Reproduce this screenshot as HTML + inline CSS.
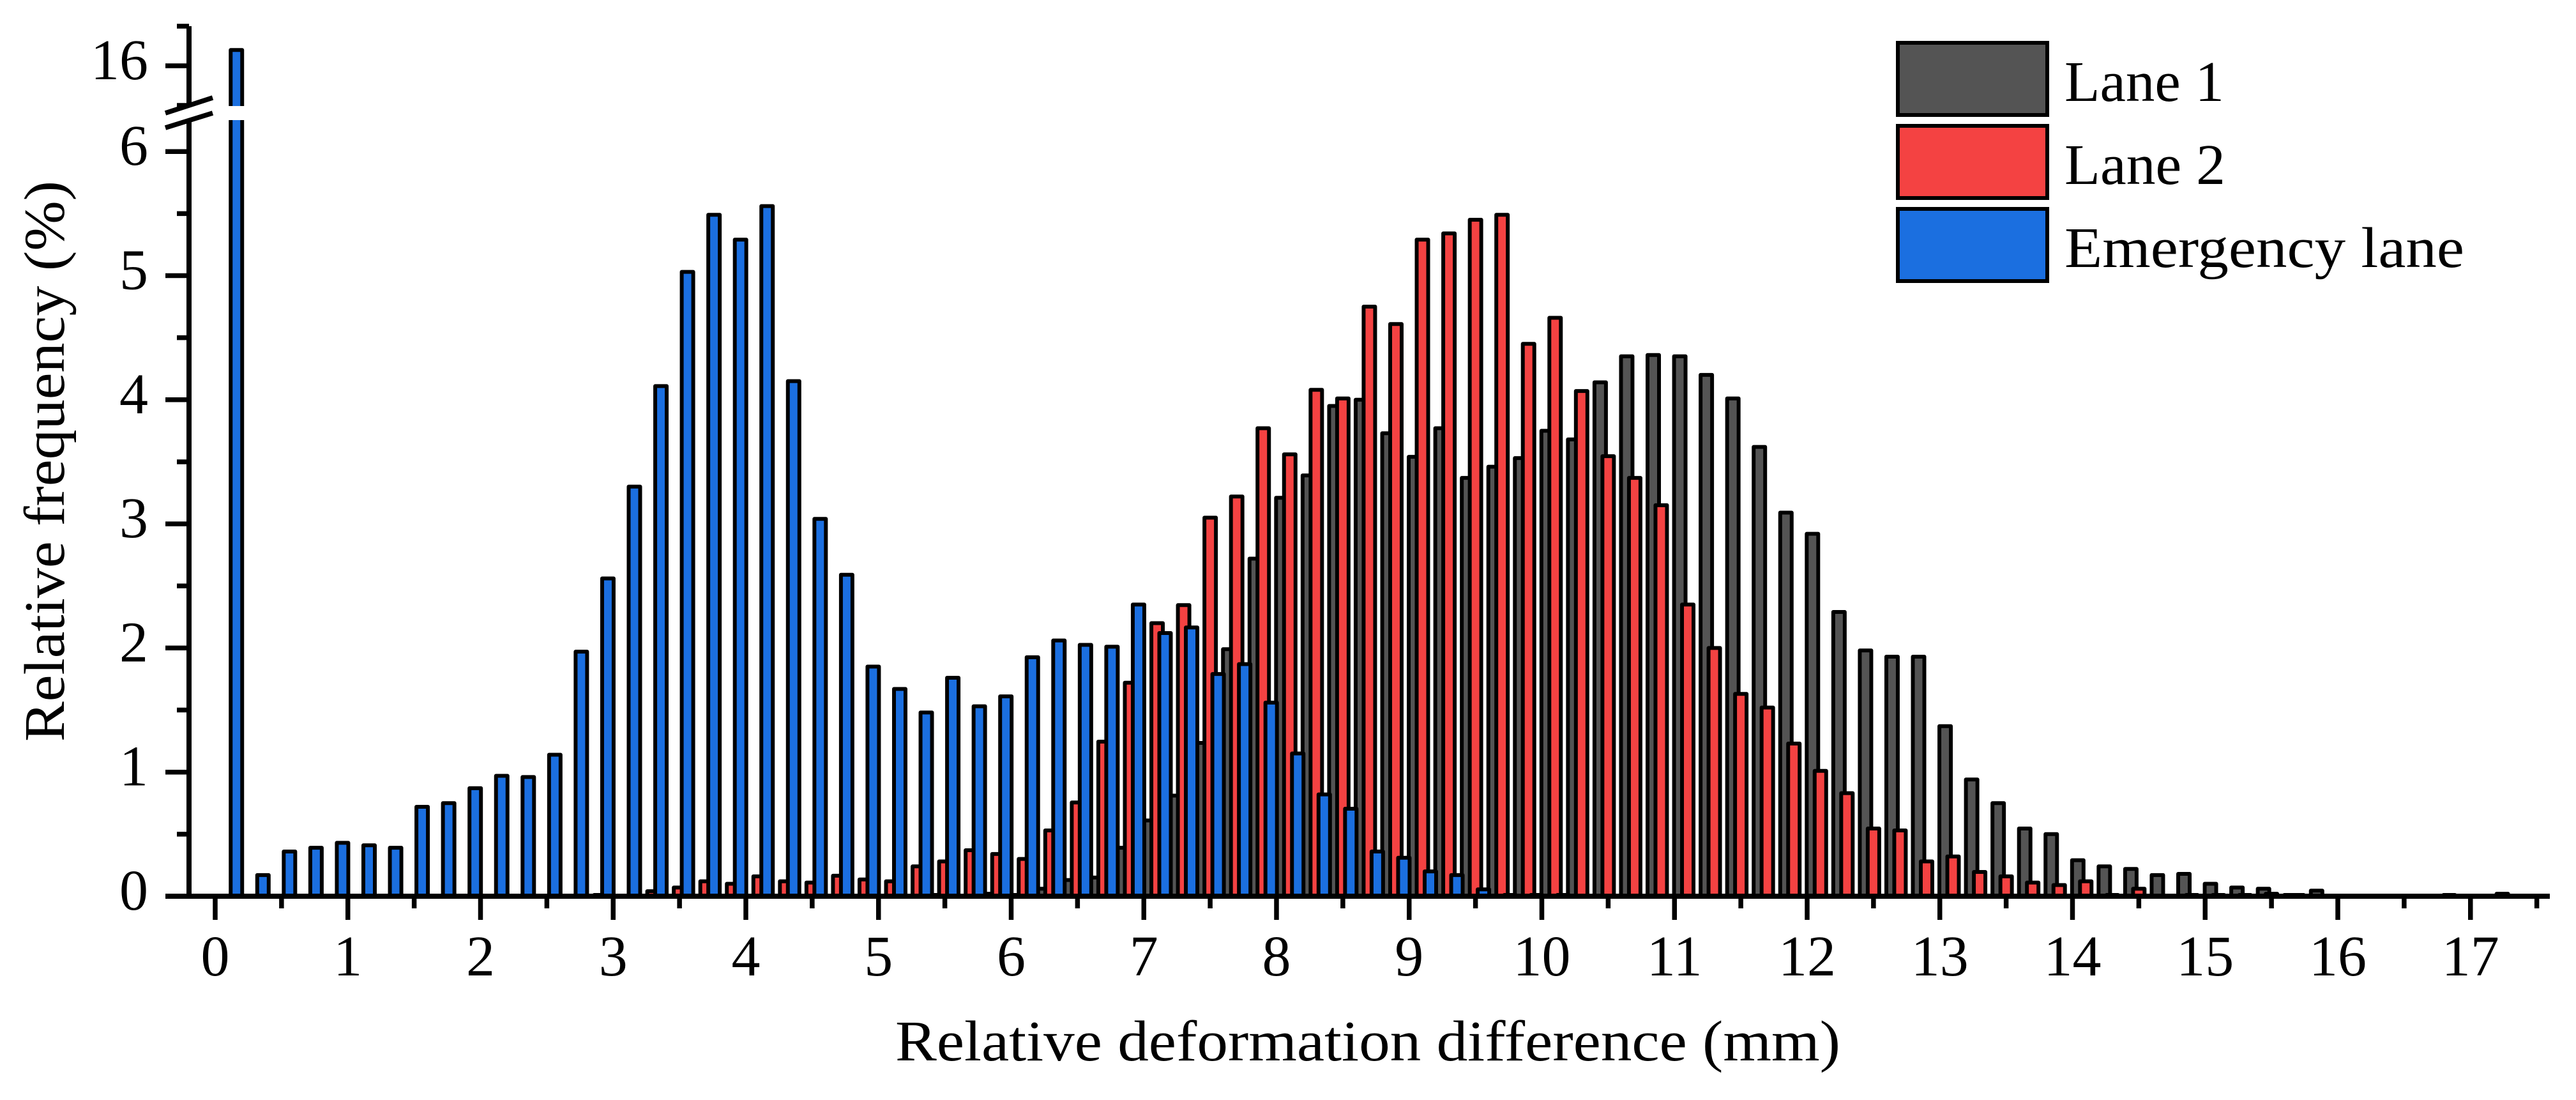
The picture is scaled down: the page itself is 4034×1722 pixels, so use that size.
<!DOCTYPE html>
<html lang="en">
<head>
<meta charset="utf-8">
<title>Relative deformation difference histogram</title>
<style>
html,body{margin:0;padding:0;background:#fff;width:4034px;height:1722px;overflow:hidden}
svg{display:block}
text{font-family:"Liberation Serif",serif;fill:#000}
</style>
</head>
<body>
<svg id="chart" xmlns="http://www.w3.org/2000/svg" width="4034" height="1722" viewBox="0 0 4034 1722">
  <rect x="0" y="0" width="4034" height="1722" fill="#ffffff"/>
  <g id="bars"></g>
  <g id="axes"></g>
  <text x="1402" y="1660" font-size="90" textLength="1480" lengthAdjust="spacingAndGlyphs">Relative deformation difference (mm)</text>
  <text transform="translate(100,1161) rotate(-90)" font-size="90" textLength="878" lengthAdjust="spacingAndGlyphs">Relative frequency (%)</text>
  <g>
    <rect x="2972" y="67" width="234" height="113" fill="#545454" stroke="#000" stroke-width="6"/>
    <text x="3233" y="158" font-size="90" textLength="250" lengthAdjust="spacingAndGlyphs">Lane 1</text>
    <rect x="2972" y="197" width="234" height="113" fill="#F44242" stroke="#000" stroke-width="6"/>
    <text x="3233" y="288" font-size="90" textLength="252" lengthAdjust="spacingAndGlyphs">Lane 2</text>
    <rect x="2972" y="327" width="234" height="113" fill="#1B6FE0" stroke="#000" stroke-width="6"/>
    <text x="3233" y="418" font-size="90" textLength="626" lengthAdjust="spacingAndGlyphs">Emergency lane</text>
  </g>
</svg>
<script>
var binWidth = 0.2;
var xTickLabels = ["0","1","2","3","4","5","6","7","8","9","10","11","12","13","14","15","16","17"];
var yTickLabels = ["0","1","2","3","4","5","6","16"];
var lane1Values = [0,0,0,0,0,0,0,0,0,0,0,0,0,0,0,0,0,0,0,0,0,0,0,0,0,0,0,0.01,0,0.02,0.01,0.05,0.12,0.14,0.38,0.60,0.80,1.225,1.98,2.71,3.2,3.38,3.94,3.99,3.72,3.53,3.76,3.36,3.45,3.52,3.74,3.67,4.13,4.34,4.35,4.34,4.19,4.0,3.61,3.08,2.91,2.28,1.97,1.92,1.92,1.36,0.93,0.74,0.535,0.49,0.28,0.23,0.21,0.16,0.17,0.09,0.06,0.05,0.01,0.035,0,0,0,0,0.01,0,0.02,0];
var lane2Values = [0,0,0,0,0,0,0,0,0,0,0,0,0,0,0.01,0,0.03,0.06,0.11,0.09,0.15,0.11,0.10,0.155,0.125,0.11,0.23,0.27,0.36,0.33,0.29,0.52,0.745,1.235,1.71,2.19,2.335,3.04,3.21,3.76,3.55,4.07,4.0,4.74,4.6,5.28,5.33,5.44,5.48,4.44,4.65,4.06,3.535,3.36,3.14,2.34,1.99,1.62,1.51,1.22,1.0,0.82,0.535,0.52,0.27,0.31,0.185,0.15,0.10,0.08,0.11,0.01,0.05,0,0.01,0.01,0.01,0.02,0.01,0,0,0,0,0,0,0,0,0];
var emergencyValues = [16.2,0.16,0.35,0.38,0.42,0.40,0.38,0.71,0.74,0.86,0.96,0.95,1.13,1.96,2.55,3.29,4.1,5.02,5.48,5.28,5.55,4.14,3.03,2.58,1.84,1.66,1.47,1.75,1.52,1.6,1.915,2.05,2.015,2.0,2.34,2.11,2.155,1.78,1.86,1.55,1.14,0.81,0.695,0.35,0.30,0.19,0.16,0.045,0.01,0.01,0.01,0,0,0,0,0,0,0,0,0,0,0,0,0,0,0,0,0,0,0,0,0,0,0,0,0,0,0,0,0,0,0,0,0,0,0,0,0];

var NS = 'http://www.w3.org/2000/svg';
var Y_BASE = 1403;
var X_ZERO = 337;
var X_UNIT = 207.75;
var LOWER_UNIT = 194.3;
var UPPER_UNIT = 124;
var UPPER_REF_PX = 103;
var UPPER_REF_VAL = 16;
var BREAK_TOP = 166;
var BREAK_BOTTOM = 188;

function xScale(v) { return X_ZERO + X_UNIT * v; }
function yScale(v) {
  if (v > 10) { return UPPER_REF_PX - (v - UPPER_REF_VAL) * UPPER_UNIT; }
  return Y_BASE - v * LOWER_UNIT;
}
function make(tag, attrs, parent) {
  var el = document.createElementNS(NS, tag);
  for (var k in attrs) { el.setAttribute(k, attrs[k]); }
  parent.appendChild(el);
  return el;
}

var barsGroup = document.getElementById('bars');
var axesGroup = document.getElementById('axes');

function drawSeries(values, offset, fill, name) {
  var BAR_W = 18;
  for (var i = 0; i < values.length; i++) {
    var cx = xScale(binWidth * i + binWidth / 2 + offset);
    var top = yScale(values[i]);
    if (values[i] > 0.02 && values[i] < 10) { top -= 2; }
    var bar = make('rect', {
      x: cx - BAR_W / 2, y: top, width: BAR_W, height: Math.max(Y_BASE - top, 0),
      fill: fill, stroke: '#000', 'stroke-width': 6, 'stroke-linejoin': 'round'
    }, barsGroup);
    
    
  }
}
drawSeries(lane1Values, -0.06, '#545454', 'bar-lane-1');
drawSeries(lane2Values, 0, '#F44242', 'bar-lane-2');
drawSeries(emergencyValues, 0.06, '#1B6FE0', 'bar-emergency-lane');

var barGap = make('rect', {
  x: xScale(binWidth / 2 + 0.06) - 14, y: BREAK_TOP, width: 28, height: BREAK_BOTTOM - BREAK_TOP, fill: '#fff'
}, barsGroup);



var yAxisLine = make('line', { x1: 296, y1: 41, x2: 296, y2: Y_BASE, stroke: '#000', 'stroke-width': 8 }, axesGroup);



var xAxisLine = make('line', { x1: 259, y1: Y_BASE, x2: 3993, y2: Y_BASE, stroke: '#000', 'stroke-width': 8 }, axesGroup);



xTickLabels.forEach(function (label) {
  var v = Number(label);
  var px = xScale(v);
  var tick = make('line', { x1: px, y1: Y_BASE, x2: px, y2: 1440, stroke: '#000', 'stroke-width': 7.5 }, axesGroup);
  
  
  var minor = make('line', { x1: xScale(v + 0.5), y1: Y_BASE, x2: xScale(v + 0.5), y2: 1422, stroke: '#000', 'stroke-width': 7.5 }, axesGroup);
  
  
  var text = make('text', { x: px, y: 1527, 'font-size': 90, 'text-anchor': 'middle' }, axesGroup);
  
  
  text.textContent = label;
});

yTickLabels.forEach(function (label) {
  var v = Number(label);
  var py = yScale(v);
  var tick = make('line', { x1: 259, y1: py, x2: 296, y2: py, stroke: '#000', 'stroke-width': 7.5 }, axesGroup);
  
  
  var text = make('text', { x: 232, y: py + 21, 'font-size': 90, 'text-anchor': 'end' }, axesGroup);
  
  
  text.textContent = label;
  var minorValues = v === 16 ? [15.5, 16.5] : (v === 6 ? [5.5] : (v === 0 ? [] : [v - 0.5]));
  minorValues.forEach(function (m) {
    var my = yScale(m);
    var minor = make('line', { x1: 277, y1: my, x2: 296, y2: my, stroke: '#000', 'stroke-width': 7.5 }, axesGroup);
    
    
  });
});

var breakGap = make('polygon', { points: '259,177 333,153 333,178 259,200', fill: '#fff' }, axesGroup);



var breakUpper = make('line', { x1: 259, y1: 177, x2: 333, y2: 153, stroke: '#000', 'stroke-width': 7.5 }, axesGroup);



var breakLower = make('line', { x1: 259, y1: 200, x2: 333, y2: 177, stroke: '#000', 'stroke-width': 7.5 }, axesGroup);


</script>
</body>
</html>
